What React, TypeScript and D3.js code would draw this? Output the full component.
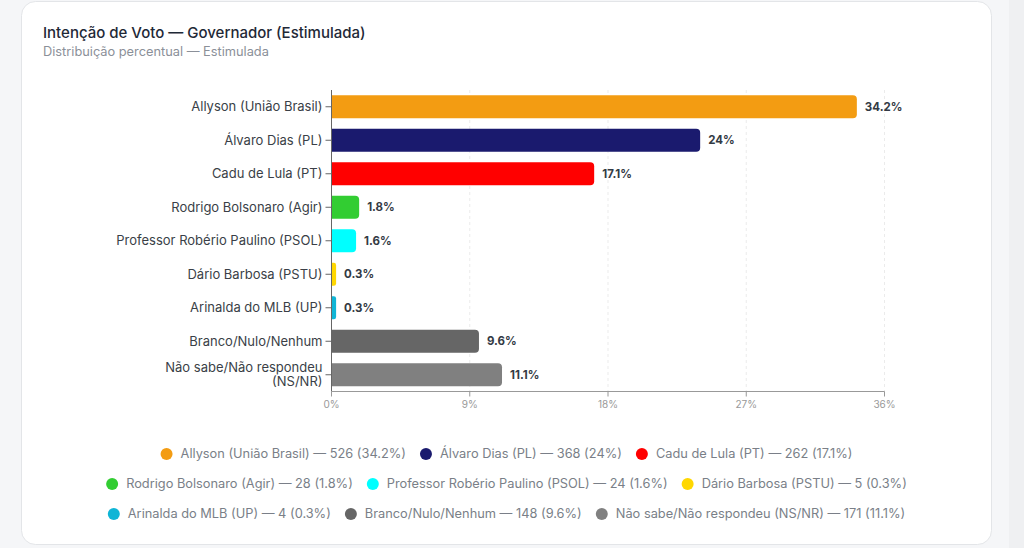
import { useEffect, useMemo } from 'react';
import * as d3 from 'd3';

const W = 1024;
const H = 548;

const CANDIDATES = [
  'Allyson (União Brasil)',
  'Álvaro Dias (PL)',
  'Cadu de Lula (PT)',
  'Rodrigo Bolsonaro (Agir)',
  'Professor Robério Paulino (PSOL)',
  'Dário Barbosa (PSTU)',
  'Arinalda do MLB (UP)',
  'Branco/Nulo/Nenhum',
  'Não sabe/Não respondeu (NS/NR)',
];
const VOTES = [526, 368, 262, 28, 24, 5, 4, 148, 171];
const PERCENTS = [34.2, 24, 17.1, 1.8, 1.6, 0.3, 0.3, 9.6, 11.1];
const COLORS = ['#F39C12', '#1A1A6E', '#FF0000', '#32CD32', '#00FFFF', '#FFD700', '#0FB5D6', '#666666', '#808080'];
const X_TICKS = [0, 9, 18, 27, 36];
const LEGEND_ROWS = [[0, 1, 2], [3, 4, 5], [6, 7, 8]];

const FONT = 'Inter, "Noto Sans", sans-serif';
const LABEL_SIZE = 13;
const LEGEND_SIZE = 12.8;

export default function App() {
  useEffect(() => {
    document.body.style.margin = '0';
    document.body.style.background = '#f5f6f8';
  }, []);

  const margin = { left: 331.5, right: 884.5, top: 90, bottom: 391.5 };
  const x = d3.scaleLinear().domain([0, 36]).range([margin.left, margin.right]);
  const y = d3.scaleBand<string>().domain(CANDIDATES).range([margin.top, margin.bottom]).paddingInner(0.31).paddingOuter(0.155);

  const ctx = useMemo(() => document.createElement('canvas').getContext('2d')!, []);

  // wrap a tick label by pixel width, like the chart lib does
  const wrapLabel = (s: string, maxW = 209): string[] => {
    ctx.font = `${LABEL_SIZE}px ${FONT}`;
    if (ctx.measureText(s).width <= maxW) return [s];
    const words = s.split(' ');
    const lines: string[] = [];
    let cur = '';
    for (const w of words) {
      const next = (cur + ' ' + w).trim();
      if (ctx.measureText(next).width > maxW && cur) {
        lines.push(cur);
        cur = w;
      } else cur = next;
    }
    if (cur) lines.push(cur);
    return lines;
  };

  const legendLayout = useMemo(() => {
    ctx.font = `${LEGEND_SIZE}px ${FONT}`;
    const cx = 506.5;
    return LEGEND_ROWS.map((row) => {
      const items = row.map((i) => {
        const text = `${CANDIDATES[i]} — ${VOTES[i]} (${PERCENTS[i]}%)`;
        return { i, text, w: 20 + ctx.measureText(text).width };
      });
      const gap = 14;
      const total = d3.sum(items, (d) => d.w) + gap * (items.length - 1);
      let pos = cx - total / 2;
      return items.map((it) => {
        const p = { ...it, x: pos };
        pos += it.w + gap;
        return p;
      });
    });
  }, [ctx]);

  const legendY = [454, 484, 514];
  const lineH = 14;

  return (
    <div style={{ position: 'absolute', left: 0, top: 0 }}>
      <svg width={W} height={H} style={{ display: 'block', fontFamily: FONT }}>
        <rect x={0} y={0} width={W} height={H} fill="#f5f6f8" />
        <rect x={1009} y={0} width={15} height={H} fill="#eff0f2" />
        <rect x={21.5} y={1.5} width={970} height={543} rx={14} fill="#ffffff" stroke="#e3e5e8" />

        <text x={43} y={38} fontSize={15} fontWeight={500} fill="#1f2937">Intenção de Voto — Governador (Estimulada)</text>
        <text x={43} y={56} fontSize={12.8} fill="#8b9099">Distribuição percentual — Estimulada</text>

        {/* grid */}
        {X_TICKS.slice(1).map((t) => (
          <line key={t} x1={x(t)} x2={x(t)} y1={margin.top} y2={margin.bottom} stroke="#ebebeb" strokeDasharray="3 3" />
        ))}

        {/* bars */}
        {CANDIDATES.map((c, i) => {
          const bx = x(0);
          const bw = x(PERCENTS[i]) - x(0);
          const by = y(c)!;
          const bh = y.bandwidth();
          const r = Math.min(4, bw / 2);
          const path = `M${bx},${by}H${bx + bw - r}A${r},${r} 0 0 1 ${bx + bw},${by + r}V${by + bh - r}A${r},${r} 0 0 1 ${bx + bw - r},${by + bh}H${bx}Z`;
          return (
            <g key={c}>
              <path d={path} fill={COLORS[i]} />
              <text x={bx + bw + 8} y={by + bh / 2} dy="0.35em" fontSize={11.5} fontWeight={700} fill="#333a44">
                {PERCENTS[i]}%
              </text>
            </g>
          );
        })}

        {/* y axis */}
        <line x1={margin.left} x2={margin.left} y1={margin.top} y2={margin.bottom} stroke="#666" />
        {CANDIDATES.map((c) => {
          const cy = y(c)! + y.bandwidth() / 2;
          const lines = wrapLabel(c);
          const y0 = cy - ((lines.length - 1) * lineH) / 2;
          return (
            <g key={c}>
              <line x1={margin.left - 6} x2={margin.left} y1={cy} y2={cy} stroke="#666" />
              {lines.map((l, k) => (
                <text key={k} x={margin.left - 9} y={y0 + k * lineH} dy="0.35em" textAnchor="end" fontSize={LABEL_SIZE} fill="#3a3f47">
                  {l}
                </text>
              ))}
            </g>
          );
        })}

        {/* x axis */}
        <line x1={margin.left} x2={margin.right} y1={margin.bottom} y2={margin.bottom} stroke="#999" strokeWidth={1.2} />
        {X_TICKS.map((t) => (
          <g key={t}>
            <line x1={x(t)} x2={x(t)} y1={margin.bottom} y2={margin.bottom + 5} stroke="#999" />
            <text x={x(t)} y={margin.bottom + 16} textAnchor="middle" fontSize={10} fill="#999">{t}%</text>
          </g>
        ))}

        {/* legend */}
        {legendLayout.map((row, ri) =>
          row.map((it) => (
            <g key={it.i}>
              <circle cx={it.x + 6} cy={legendY[ri]} r={6} fill={COLORS[it.i]} />
              <text x={it.x + 20} y={legendY[ri]} dy="0.35em" fontSize={LEGEND_SIZE} fill="#7a7f88">{it.text}</text>
            </g>
          ))
        )}
      </svg>
    </div>
  );
}
